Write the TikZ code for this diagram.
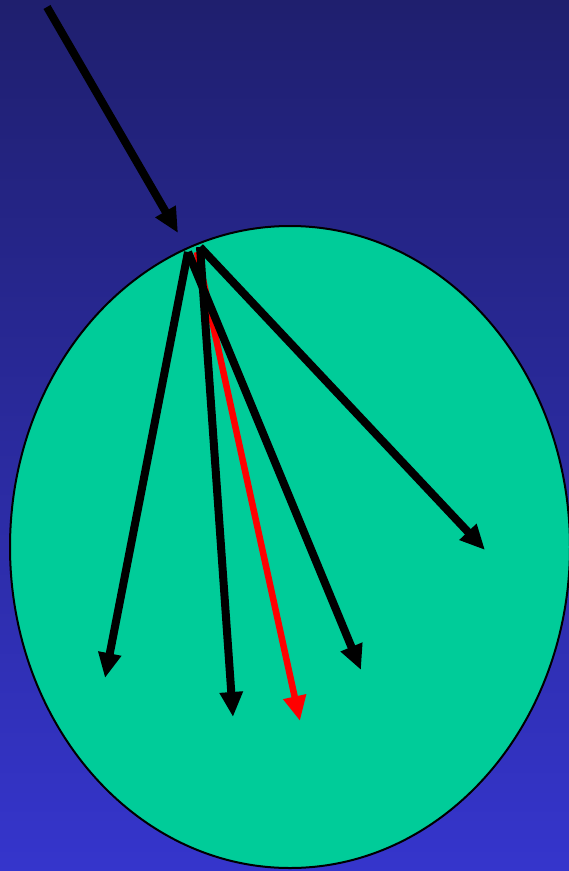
\documentclass[tikz,border=0pt]{standalone}
\usetikzlibrary{arrows.meta}
\definecolor{bgtop}{RGB}{31,31,110}
\definecolor{bgbot}{RGB}{53,53,204}
\definecolor{cellgreen}{RGB}{0,204,153}
\tikzset{
  ray/.style={line width=8pt, -{Triangle[length=25pt,width=22pt]}},
  redray/.style={ray, red, line width=6.5pt}
}
\begin{document}
\begin{tikzpicture}[x=1pt,y=-1pt]
\useasboundingbox (0,0) rectangle (569,871);
\shade[top color=bgtop, bottom color=bgbot] (0,0) rectangle (569,871);
\draw[fill=cellgreen, line width=2pt] (290,547) ellipse [x radius=280, y radius=321];
\coordinate (in0) at (47,7);
\coordinate (in1) at (178,233);
\coordinate (s1) at (188,252);
\coordinate (s2) at (200,247);
\coordinate (s3) at (197,252);
\coordinate (e1) at (105,678);
\coordinate (e2) at (233,717);
\coordinate (e3) at (300,721);
\coordinate (e4) at (361,670);
\coordinate (e5) at (485,550);
\draw[ray] (in0) -- (in1);
\draw[redray] (s3) -- (e3);
\draw[ray] (s1) -- (e1);
\draw[ray] (s2) -- (e2);
\draw[ray] (s1) -- (e4);
\draw[ray] (s2) -- (e5);
\end{tikzpicture}
\end{document}
